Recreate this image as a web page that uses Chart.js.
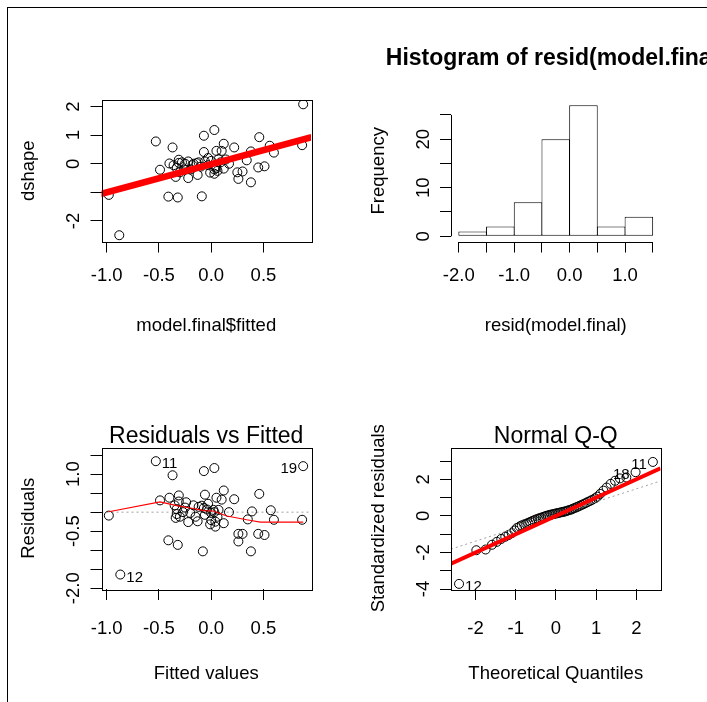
<!DOCTYPE html>
<html>
<head>
<meta charset="utf-8">
<script src="https://cdn.jsdelivr.net/npm/chart.js@4.4.1/dist/chart.umd.min.js"></script>
<style>
  html, body { margin: 0; padding: 0; background: #fff; overflow: hidden; }
  #page { position: relative; width: 707px; height: 702px; overflow: hidden; }
  #frame { position: absolute; left: 7px; top: 7px; width: 1000px; height: 1000px;
           border-left: 1px solid #000; border-top: 1px solid #000; }
  canvas { position: absolute; left: 0; top: 0; }
</style>
</head>
<body>
<div id="page">
  <div id="frame"></div>
  <canvas id="fitPlot" width="707" height="702"></canvas>
  <canvas id="histPlot" width="707" height="702"></canvas>
  <canvas id="rvfPlot" width="707" height="702"></canvas>
  <canvas id="qqPlot" width="707" height="702"></canvas>
</div>
<script>
// --- panel 1: dshape against model.final$fitted
const fittedA = [0.88, -0.98, -0.88, -0.53, -0.37, -0.49, -0.40, -0.31, -0.31, -0.33, -0.34, -0.41, -0.32, -0.09,
  -0.07, 0.03, 0.12, -0.07, 0.05, 0.10, 0.22, 0.46, 0.56, 0.60, 0.87, 0.38, 0.34, 0.45, 0.51, 0.25, 0.30, 0.26,
  0.38, 0.17, 0.12, 0.07, 0.03, 0.03, -0.01, -0.13, -0.22, -0.25, -0.17, -0.12, -0.06, -0.03, -0.03, -0.10, 0.04,
  -0.20, -0.26, -0.30, -0.28, -0.18, 0.06, 0.00, 0.09, -0.14, -0.36, 0.14, -0.22, 0.05];
const dshape = [2.08, -1.09, -2.50, 0.78, 0.57, -0.21, 0.01, 0.14, 0.03, -0.15, -0.46, -1.15, -1.18, -1.14,
  0.98, 1.18, 0.70, 0.41, 0.45, 0.45, 0.57, 0.93, 0.63, 0.39, 0.65, 0.43, 0.12, -0.13, -0.09, -0.30, -0.27, -0.53,
  -0.65, 0.00, -0.17, 0.16, -0.20, -0.35, -0.31, -0.39, -0.50, 0.00, 0.00, 0.05, 0.08, 0.20, -0.05, -0.10, -0.10,
  -0.20, -0.20, -0.30, 0.05, -0.05, -0.25, 0.10, 0.05, 0.02, -0.05, 0.15, 0.08, -0.15];
const fitLineX = [-1.06, 0.96];
const fitLineY = [-1.06, 0.93];
const fitTicks = [-1.0, -0.5, 0.0, 0.5];
const fitTickLabels = ['-1.0', '-0.5', '0.0', '0.5'];
const dshapeTicks = [-2, -1, 0, 1, 2];
const dshapeTickLabels = ['-2', '', '0', '1', '2'];

// --- panel 2: histogram of resid(model.final)
const binMids = [-1.75, -1.25, -0.75, -0.25, 0.25, 0.75, 1.25];
const binCounts = [1, 2, 7, 20, 27, 2, 4];
const histTicks = [-2.0, -1.5, -1.0, -0.5, 0.0, 0.5, 1.0, 1.5];
const histTickLabels = ['-2.0', '', '-1.0', '', '0.0', '', '1.0', ''];
const freqTicks = [0, 5, 10, 15, 20, 25];
const freqTickLabels = ['0', '', '10', '', '20', ''];

// --- panel 3: residuals vs fitted
const fittedB = [-0.98, -0.87, -0.53, 0.88, -0.37, -0.07, 0.03, -0.49, -0.40, -0.31, -0.31, -0.24, -0.06, 0.12,
  0.05, 0.10, 0.22, 0.46, 0.57, 0.60, 0.87, 0.39, 0.35, 0.45, 0.51, 0.26, 0.30, 0.26, 0.38, -0.41, -0.32, -0.08,
  -0.34, -0.33, -0.33, -0.22, -0.13, 0.17, 0.12, 0.04, -0.01, 0.04, -0.17, -0.12, -0.07, -0.04, -0.03, 0.00, 0.02,
  0.07, -0.27, -0.30, -0.20, -0.15, -0.06, 0.00, -0.09, 0.06, -0.25, 0.03, -0.35];
const resid = [-0.09, -1.64, 1.34, 1.21, 0.97, 1.08, 1.16, 0.31, 0.38, 0.44, 0.28, 0.26, 0.46, 0.57,
  0.38, 0.33, 0.34, 0.48, 0.05, -0.20, -0.20, 0.02, -0.19, -0.57, -0.60, -0.57, -0.57, -0.77, -1.03, -0.74, -0.86, -1.03,
  -0.15, -0.05, 0.08, -0.26, -0.24, 0.00, -0.29, -0.38, -0.32, -0.25, 0.18, 0.14, 0.11, 0.07, 0.22, -0.02, 0.06,
  0.06, 0.00, -0.12, -0.02, -0.12, -0.07, -0.21, 0.17, -0.12, 0.12, 0.00, 0.18];
const lowessX = [-0.98, -0.49, -0.33, -0.20, -0.07, 0.02, 0.15, 0.34, 0.47, 0.88];
const lowessY = [0.01, 0.27, 0.17, 0.11, 0.04, 0.03, -0.10, -0.20, -0.26, -0.26];
const residTicks = [-2.0, -1.5, -1.0, -0.5, 0.0, 0.5, 1.0, 1.5];
const residTickLabels = ['-2.0', '', '', '-0.5', '', '', '1.0', ''];
const rvfIdIndex = [1, 2, 3];
const rvfIdText = ['12', '11', '19'];

// --- panel 4: normal Q-Q
const theoQ = [-2.41, -1.98, -1.75, -1.59, -1.47, -1.36, -1.26, -1.18, -1.10, -1.03, -0.97, -0.90, -0.85, -0.79,
  -0.74, -0.69, -0.64, -0.59, -0.54, -0.50, -0.45, -0.41, -0.37, -0.32, -0.28, -0.24, -0.20, -0.16, -0.12, -0.08,
  -0.04, 0.00, 0.04, 0.08, 0.12, 0.16, 0.20, 0.24, 0.28, 0.32, 0.37, 0.41, 0.45, 0.50, 0.54, 0.59, 0.64, 0.69,
  0.74, 0.79, 0.85, 0.90, 0.97, 1.03, 1.10, 1.18, 1.26, 1.36, 1.47, 1.59, 1.75, 1.98, 2.41];
const stdResid = [-3.72, -1.88, -1.84, -1.58, -1.42, -1.26, -1.14, -1.05, -0.95, -0.80, -0.66, -0.58, -0.52, -0.47,
  -0.43, -0.38, -0.33, -0.28, -0.24, -0.20, -0.16, -0.13, -0.10, -0.06, -0.03, 0.00, 0.02, 0.05, 0.07, 0.09,
  0.11, 0.13, 0.15, 0.17, 0.19, 0.21, 0.23, 0.25, 0.28, 0.31, 0.34, 0.38, 0.42, 0.46, 0.50, 0.55, 0.60, 0.65,
  0.70, 0.76, 0.82, 0.88, 0.96, 1.05, 1.20, 1.38, 1.55, 1.75, 1.92, 2.05, 2.10, 2.39, 2.95];
const qqRedX = [-2.61, 2.60];
const qqRedY = [-2.62, 2.60];
const qqDotX = [-2.61, 2.60];
const qqDotY = [-1.82, 1.91];
const qTicks = [-2, -1, 0, 1, 2];
const qTickLabels = ['-2', '-1', '0', '1', '2'];
const stdTicks = [-4, -3, -2, -1, 0, 1, 2, 3];
const stdTickLabels = ['-4', '', '-2', '', '0', '', '2', ''];
const qqIdIndex = [0, 61, 62];
const qqIdText = ['12', '18', '11'];

const FONT = '"Liberation Sans", Arial, Helvetica, sans-serif';
const AXIS_PX = 18.5;
const MAIN_PX = 23;
const ID_PX = 15;

Chart.defaults.font.family = FONT;
Chart.defaults.animation = false;

const xy = (xs, ys) => xs.map((v, i) => ({ x: v, y: ys[i] }));

// text rotated to read bottom-to-top, like R's y axis
function rotText(ctx, text, x, y) {
  ctx.save();
  ctx.translate(x, y);
  ctx.rotate(-Math.PI / 2);
  ctx.fillText(text, 0, 0);
  ctx.restore();
}

// box, R style axis lines, tick labels, titles and point ids
const rPanel = {
  id: 'rPanel',
  afterDraw(chart, args, o) {
    const { ctx, chartArea: a } = chart;
    const x = chart.scales.x, y = chart.scales.y;
    const cap = AXIS_PX * 0.36;
    ctx.save();
    ctx.strokeStyle = '#000';
    ctx.lineWidth = 1;
    if (o.box) {
      ctx.strokeRect(Math.round(a.left) + 0.5, Math.round(a.top) + 0.5,
        Math.round(a.right - a.left), Math.round(a.bottom - a.top));
    } else {
      const xt = x.ticks, yt = y.ticks;
      const bx = Math.round(a.left) + 0.5, by = Math.round(a.bottom) + 0.5;
      ctx.beginPath();
      ctx.moveTo(x.getPixelForValue(xt[0].value), by);
      ctx.lineTo(x.getPixelForValue(xt[xt.length - 1].value), by);
      ctx.moveTo(bx, y.getPixelForValue(yt[0].value));
      ctx.lineTo(bx, y.getPixelForValue(yt[yt.length - 1].value));
      ctx.stroke();
    }

    ctx.fillStyle = '#000';
    ctx.font = AXIS_PX + 'px ' + FONT;
    ctx.textAlign = 'center';
    ctx.textBaseline = 'alphabetic';
    x.ticks.forEach(t => {
      if (t.label) ctx.fillText(t.label, x.getPixelForValue(t.value), a.bottom + o.tickGap + cap);
    });
    y.ticks.forEach(t => {
      if (t.label) rotText(ctx, t.label, a.left - 29 + cap, y.getPixelForValue(t.value));
    });
    ctx.fillText(o.xTitle, (a.left + a.right) / 2, a.bottom + 83 + cap);
    rotText(ctx, o.yTitle, a.left - 74 + cap, (a.top + a.bottom) / 2);

    if (o.main) {
      ctx.font = (o.mainBold ? 'bold ' : '') + MAIN_PX + 'px ' + FONT;
      ctx.fillText(o.main, (a.left + a.right) / 2, a.top - o.mainGap);
    }

    if (o.idIndex) {
      ctx.font = ID_PX + 'px ' + FONT;
      ctx.textBaseline = 'middle';
      const pts = chart.data.datasets[o.idSet].data;
      const xs = pts.map(p => p.x);
      const mid = (Math.min(...xs) + Math.max(...xs)) / 2;
      o.idIndex.forEach((k, j) => {
        const p = pts[k];
        const px = x.getPixelForValue(p.x), py = y.getPixelForValue(p.y) + 3;
        if (p.x > mid) {
          ctx.textAlign = 'right';
          ctx.fillText(o.idText[j], px - 6, py);
        } else {
          ctx.textAlign = 'left';
          ctx.fillText(o.idText[j], px + 6, py);
        }
      });
    }
    ctx.restore();
  }
};

function rScale(min, max, ticks, labels, horizontal) {
  return {
    type: 'linear',
    min, max,
    offset: false,
    afterBuildTicks: s => { s.ticks = ticks.map(v => ({ value: v })); },
    afterFit: s => { if (horizontal) s.height = 20; else s.width = 20; },
    ticks: { display: false, callback: (v, i) => labels[i] },
    grid: { drawOnChartArea: false, drawTicks: true, tickLength: 11, color: '#000', lineWidth: 1, offset: false },
    border: { display: false }
  };
}

function baseOptions(box, xScale, yScale, panel) {
  return {
    responsive: false,
    devicePixelRatio: 1,
    events: [],
    layout: {
      autoPadding: false,
      padding: { left: box.l - 20, top: box.t, right: 707 - box.r, bottom: 702 - box.b - 20 }
    },
    scales: { x: xScale, y: yScale },
    plugins: { legend: { display: false }, tooltip: { enabled: false }, rPanel: panel }
  };
}

const circles = data => ({
  type: 'scatter', data,
  borderColor: '#000', backgroundColor: 'rgba(0,0,0,0)',
  pointRadius: 4.5, pointBorderWidth: 1, pointStyle: 'circle'
});
const line = (data, color, width, dash) => ({
  type: 'line', data, showLine: true, fill: false, clip: 0,
  borderColor: color, borderWidth: width, borderDash: dash || [],
  pointRadius: 0, tension: 0
});

const topBox = { l: 101.5, r: 311, t: 100, b: 241.5 };
const topBox2 = { l: 451, r: 660.5, t: 100, b: 241.5 };
const botBox = { l: 101.5, r: 311, t: 447.5, b: 589 };
const botBox2 = { l: 451, r: 660.5, t: 447.5, b: 589 };

new Chart(document.getElementById('fitPlot'), {
  type: 'scatter',
  data: {
    datasets: [
      line(xy(fitLineX, fitLineY), '#ff0000', 6.5),
      circles(xy(fittedA, dshape))
    ]
  },
  options: baseOptions(topBox,
    rScale(-1.05, 0.955, fitTicks, fitTickLabels, true),
    rScale(-2.72, 2.23, dshapeTicks, dshapeTickLabels, false),
    { box: true, xTitle: 'model.final$fitted', yTitle: 'dshape', tickGap: 33 }),
  plugins: [rPanel]
});

new Chart(document.getElementById('histPlot'), {
  type: 'bar',
  data: {
    datasets: [{
      data: xy(binMids, binCounts),
      backgroundColor: '#fff', borderColor: '#000', borderWidth: 1,
      borderSkipped: false, barPercentage: 1.03, categoryPercentage: 1, inflateAmount: 0
    }]
  },
  options: baseOptions(topBox2,
    rScale(-2.14, 1.64, histTicks, histTickLabels, true),
    rScale(-1.08, 28.08, freqTicks, freqTickLabels, false),
    { box: false, xTitle: 'resid(model.final)', yTitle: 'Frequency', tickGap: 33,
      main: 'Histogram of resid(model.final)', mainBold: true, mainGap: 34.6 }),
  plugins: [rPanel]
});

new Chart(document.getElementById('rvfPlot'), {
  type: 'scatter',
  data: {
    datasets: [
      line(xy(lowessX, lowessY), '#ff0000', 1.2),
      circles(xy(fittedB, resid)),
      line(xy([-1.05, 0.955], [0, 0]), '#a0a0a0', 1, [2, 3])
    ]
  },
  options: baseOptions(botBox,
    rScale(-1.05, 0.955, fitTicks, fitTickLabels, true),
    rScale(-2.02, 1.70, residTicks, residTickLabels, false),
    { box: true, xTitle: 'Fitted values', yTitle: 'Residuals', tickGap: 38,
      main: 'Residuals vs Fitted', mainBold: false, mainGap: 4.5,
      idSet: 1, idIndex: rvfIdIndex, idText: rvfIdText }),
  plugins: [rPanel]
});

new Chart(document.getElementById('qqPlot'), {
  type: 'scatter',
  data: {
    datasets: [
      line(xy(qqRedX, qqRedY), '#ff0000', 4),
      line(xy(qqDotX, qqDotY), '#a0a0a0', 1, [2, 3]),
      circles(xy(theoQ, stdResid))
    ]
  },
  options: baseOptions(botBox2,
    rScale(-2.61, 2.60, qTicks, qTickLabels, true),
    rScale(-4.0, 3.74, stdTicks, stdTickLabels, false),
    { box: true, xTitle: 'Theoretical Quantiles', yTitle: 'Standardized residuals', tickGap: 38,
      main: 'Normal Q-Q', mainBold: false, mainGap: 4.5,
      idSet: 2, idIndex: qqIdIndex, idText: qqIdText }),
  plugins: [rPanel]
});
</script>
</body>
</html>
